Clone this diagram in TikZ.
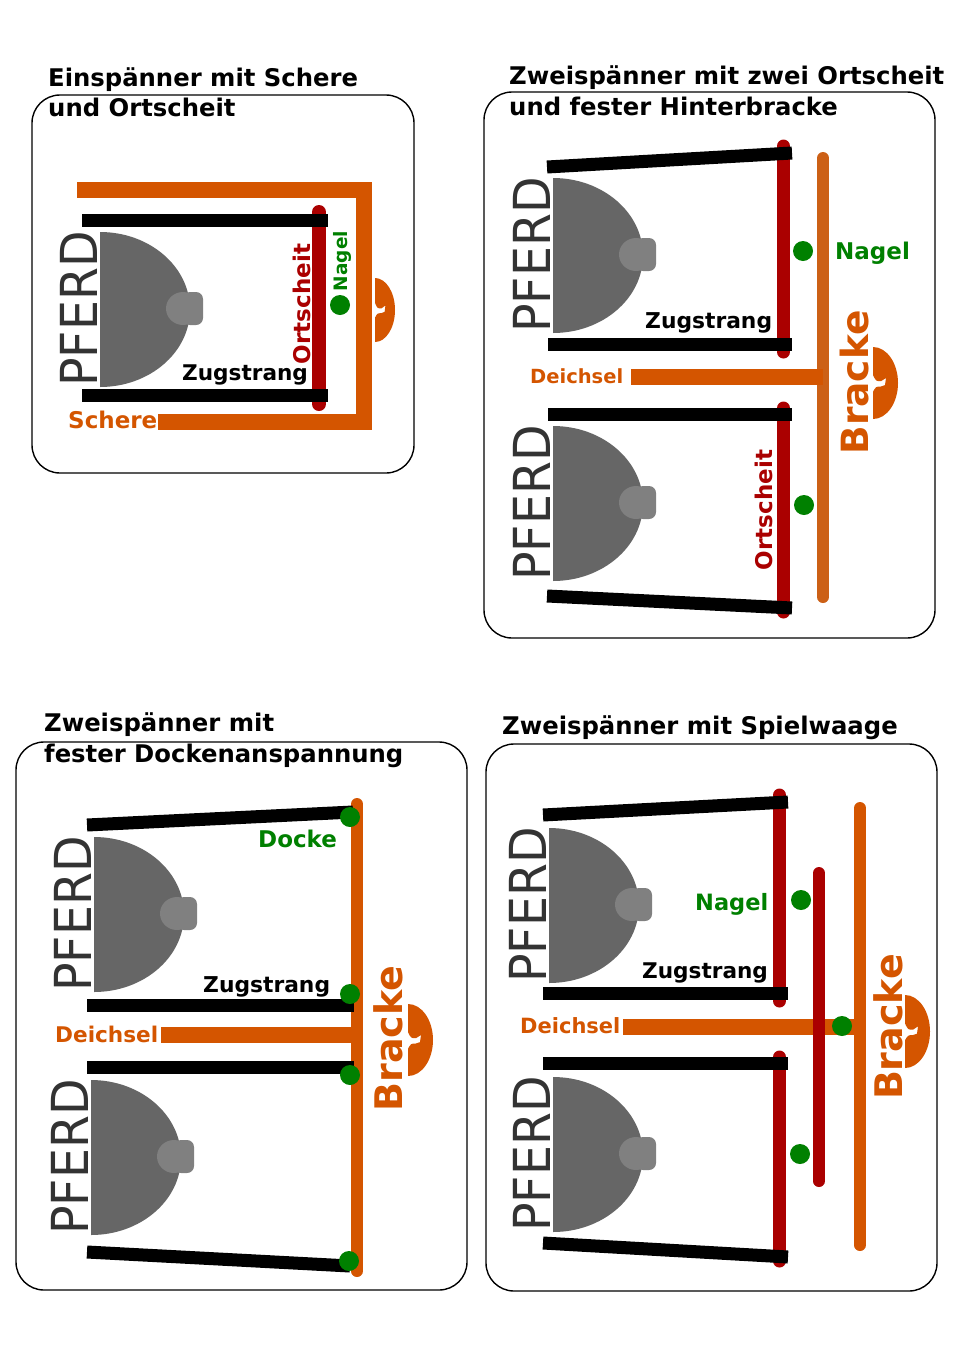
\documentclass[tikz,border=0pt]{standalone}
\usepackage{fontspec}
\setmainfont{DejaVu Sans}
\newfontfamily\pferdfont[FakeStretch=0.93]{DejaVu Sans}
\definecolor{orng}{RGB}{212,85,0}
\definecolor{brkc}{RGB}{204,96,22}
\definecolor{rd}{RGB}{170,0,0}
\definecolor{grn}{RGB}{0,128,0}
\definecolor{headc}{RGB}{102,102,102}
\definecolor{nosec}{RGB}{128,128,128}
\definecolor{pftxt}{RGB}{51,51,51}
\newcommand\rotsym[4]{%
  \pgfmathsetmacro\rsh{(#3-#2)/2}%
  \pgfmathsetmacro\rsm{(#3+#2)/2}%
  \fill[orng] (#1,#2) arc[start angle=-90,end angle=90,x radius=#4,y radius=\rsh]
    -- (#1,{\rsm+0.24*\rsh})
    .. controls ({#1+0.12*#4},{\rsm+0.1*\rsh}) .. ({#1+0.3*#4},{\rsm+0.1*\rsh})
    -- ({#1+0.48*#4},{\rsm+0.06*\rsh})
    -- ({#1+0.52*#4},{\rsm-0.14*\rsh})
    -- ({#1+0.32*#4},{\rsm-0.05*\rsh})
    .. controls ({#1+0.12*#4},{\rsm-0.05*\rsh}) .. (#1,{\rsm-0.22*\rsh})
    -- cycle;}
\newcommand\pferdhead[3]{%
  \fill[headc] (#2,#3) arc[start angle=-90,end angle=90,x radius=90,y radius=77.5] -- cycle;
  \fill[nosec] ({#2+83},{#3+76.5}) ellipse[x radius=17,y radius=16.5];
  \fill[nosec,rounded corners=7pt] ({#2+83},{#3+60}) rectangle ({#2+103},{#3+93});
  \node[pf] (#1) at ({#2-3},{#3+77}) {PFERD};}
\begin{document}
\begin{tikzpicture}[x=1pt,y=-1pt,
  panel/.style={draw=black,line width=1.4pt,rounded corners=28pt},
  zug/.style={draw=black,line width=13pt,line cap=butt},
  ort/.style={draw=rd,line width=13pt,line cap=round},
  brk/.style={draw=orng,line width=12pt,line cap=round},
  deich/.style={draw=orng,line width=16pt,line cap=butt},
  ttl/.style={inner sep=0pt,anchor=base west,font=\fontsize{24.3}{29}\selectfont\bfseries},
  lbl/.style={inner sep=0pt,anchor=base west,font=\fontsize{#1}{#1}\selectfont\bfseries},
  rlbl/.style={inner sep=0pt,anchor=base,rotate=90,font=\fontsize{#1}{#1}\selectfont\bfseries},
  pf/.style={inner sep=0pt,anchor=base,rotate=90,text=pftxt,font=\fontsize{51}{51}\selectfont\pferdfont}]
\useasboundingbox[fill=white] (0,0) rectangle (960,1358);

% ---------- Panel 1 ----------
\draw[panel] (32,95) rectangle (414,473);
\node[ttl] (t1a) at (48,86.5) {Einspänner mit Schere};
\node[ttl] (t1b) at (48,116.5) {und Ortscheit};
\draw[orng,line width=16pt,line join=miter,line cap=butt] (77,189.5) -- (364,189.5) -- (364,422) -- (158,422);
\draw[ort,line width=14pt] (319,212) -- (319,404);
\draw[zug] (82,220.5) -- (328,220.5);
\draw[zug] (82,395.5) -- (328,395.5);
\fill[grn] (340,305) circle[radius=10];
\rotsym{375}{278}{342}{20}
\pferdhead{h1}{100}{232}
\node[lbl=21.6] (z1) at (182,380.5) {Zugstrang};
\node[lbl=23,text=orng] (s1) at (68,428) {Schere};
\node[rlbl=23,text=rd] (o1) at (310,304) {Ortscheit};
\node[rlbl=18.5,text=grn] (n1) at (347,261) {Nagel};

% ---------- Panel 2 ----------
\draw[panel] (484,92) rectangle (935,638);
\node[ttl] (t2a) at (509,84.5) {Zweispänner mit zwei Ortscheit};
\node[ttl] (t2b) at (509,115.5) {und fester Hinterbracke};
\draw[brk,draw=brkc] (823,158) -- (823,597);
\draw[deich] (631,377) -- (823,377);
\draw[ort] (783.5,146) -- (783.5,352);
\draw[ort] (783.5,408) -- (783.5,612);
\draw[zug] (547,167) -- (792,153);
\draw[zug] (548,344) -- (792,344);
\draw[zug] (548,414) -- (792,414);
\draw[zug] (547,596) -- (792,608);
\fill[grn] (803,251) circle[radius=10];
\fill[grn] (804,505) circle[radius=10];
\rotsym{873}{347}{419}{25}
\pferdhead{h2}{553}{178}
\pferdhead{h3}{553}{426}
\node[lbl=23,text=grn] (n2) at (835,259) {Nagel};
\node[lbl=21.8] (z2) at (645,328) {Zugstrang};
\node[lbl=19.5,text=orng] (d2) at (530,383) {Deichsel};
\node[rlbl=23,text=rd] (o2) at (772,510) {Ortscheit};
\node[rlbl=37.5,text=orng] (b2) at (868,382.5) {Bracke};

% ---------- Panel 3 ----------
\draw[panel] (16,742) rectangle (467,1290);
\node[ttl] (t3a) at (44,731) {Zweispänner mit};
\node[ttl] (t3b) at (44,762) {fester Dockenanspannung};
\draw[brk] (357,804) -- (357,1271);
\draw[deich] (161,1035) -- (357,1035);
\draw[zug] (87,825) -- (353,812);
\draw[zug] (87,1005) -- (354,1005);
\draw[zug] (87,1067) -- (354,1067);
\draw[zug] (87,1252) -- (350,1266);
\fill[grn] (350,817) circle[radius=10];
\fill[grn] (350,994) circle[radius=10];
\fill[grn] (350,1075) circle[radius=10];
\fill[grn] (349,1261) circle[radius=10];
\rotsym{408}{1004}{1076}{25}
\pferdhead{h4}{94}{837}
\pferdhead{h5}{91}{1080}
\node[lbl=23,text=grn] (k3) at (258,847) {Docke};
\node[lbl=21.8] (z3) at (203,992) {Zugstrang};
\node[lbl=21.6,text=orng] (d3) at (55,1042) {Deichsel};
\node[rlbl=38,text=orng] (b3) at (402,1038.5) {Bracke};

% ---------- Panel 4 ----------
\draw[panel] (486,744) rectangle (937,1291);
\node[ttl] (t4a) at (502,734) {Zweispänner mit Spielwaage};
\draw[brk] (860,808) -- (860,1245);
\draw[deich] (623,1026.5) -- (860,1026.5);
\draw[ort] (779.5,795) -- (779.5,1001);
\draw[ort] (779.5,1057) -- (779.5,1261);
\draw[ort,line width=12pt] (819,873) -- (819,1181);
\draw[zug] (543,815) -- (788,802);
\draw[zug] (543,993.5) -- (788,993.5);
\draw[zug] (543,1063) -- (788,1063);
\draw[zug] (543,1243) -- (788,1257);
\fill[grn] (801,900) circle[radius=10];
\fill[grn] (842,1026) circle[radius=10];
\fill[grn] (800,1154) circle[radius=10];
\rotsym{905}{995}{1068}{25}
\pferdhead{h6}{549}{828}
\pferdhead{h7}{553}{1077}
\node[lbl=22.5,text=grn] (n4) at (695,910) {Nagel};
\node[lbl=21.6] (z4) at (642,978) {Zugstrang};
\node[lbl=21,text=orng] (d4) at (520,1033) {Deichsel};
\node[rlbl=38,text=orng] (b4) at (902,1027) {Bracke};
\end{tikzpicture}
\end{document}
